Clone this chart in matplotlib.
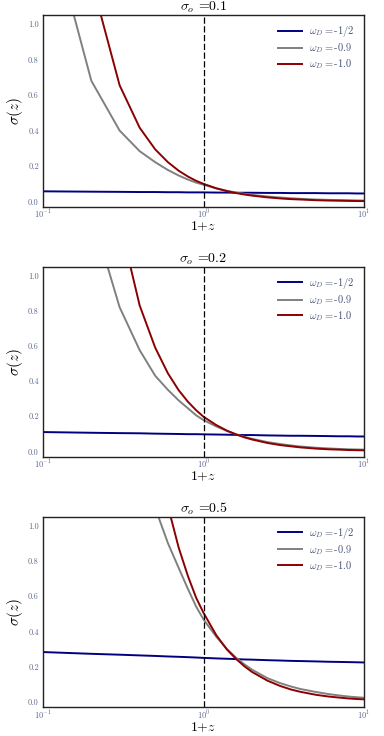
import numpy as np
import matplotlib
matplotlib.use("Agg")
import matplotlib.pyplot as plt

plt.rcParams['font.family'] = 'serif'
plt.rcParams['font.serif'] = ['cmr10', 'DejaVu Serif']
plt.rcParams['mathtext.fontset'] = 'cm'
plt.rcParams['axes.formatter.use_mathtext'] = True

# 1+z grid
x = [0.1, 0.2, 0.3, 0.4, 0.5, 0.6, 0.7, 0.8, 0.9, 1.0, 1.2, 1.4, 1.6, 1.8, 2.0,
     2.5, 3.0, 3.5, 4.0, 5.0, 6.0, 7.0, 8.0, 9.0, 10.0]

sigma0 = ['0.1', '0.2', '0.5']
labels = ['-1/2', '-0.9', '-1.0']
colors = ['#000080', 'gray', '#8b0000']

# sigma_o = 0.1
s1_half = [0.058, 0.056, 0.055, 0.054, 0.054, 0.053, 0.053, 0.052, 0.052, 0.052, 0.051, 0.051, 0.050,
           0.050, 0.050, 0.049, 0.049, 0.048, 0.048, 0.048, 0.047, 0.047, 0.047, 0.046, 0.046]
s1_09 = [1.7, 0.68, 0.40, 0.284, 0.222, 0.178, 0.147, 0.124, 0.107, 0.095, 0.075, 0.061, 0.051,
         0.044, 0.038, 0.029, 0.023, 0.019, 0.016, 0.012, 0.010, 0.009, 0.008, 0.007, 0.006]
s1_10 = [3.6, 1.25, 0.655, 0.416, 0.294, 0.222, 0.174, 0.141, 0.117, 0.100, 0.075, 0.059, 0.048,
         0.040, 0.034, 0.024, 0.018, 0.014, 0.012, 0.008, 0.006, 0.005, 0.004, 0.0033, 0.003]

# sigma_o = 0.2
s2_half = [0.110, 0.106, 0.104, 0.103, 0.101, 0.100, 0.099, 0.098, 0.098, 0.097, 0.096, 0.095, 0.094,
           0.093, 0.093, 0.091, 0.090, 0.089, 0.089, 0.088, 0.087, 0.086, 0.086, 0.085, 0.085]
s2_09 = [3.4, 1.36, 0.82, 0.576, 0.43, 0.35, 0.29, 0.245, 0.205, 0.178, 0.142, 0.116, 0.097,
         0.083, 0.072, 0.053, 0.042, 0.034, 0.028, 0.021, 0.017, 0.014, 0.012, 0.011, 0.010]
s2_10 = [7.2, 2.5, 1.31, 0.83, 0.59, 0.444, 0.348, 0.282, 0.234, 0.197, 0.150, 0.118, 0.096,
         0.080, 0.068, 0.048, 0.036, 0.029, 0.023, 0.016, 0.012, 0.010, 0.008, 0.007, 0.006]

# sigma_o = 0.5
s3_half = [0.283, 0.273, 0.268, 0.264, 0.261, 0.258, 0.256, 0.254, 0.252, 0.250, 0.247, 0.245, 0.243,
           0.241, 0.240, 0.237, 0.235, 0.233, 0.232, 0.230, 0.228, 0.227, 0.226, 0.225, 0.224]
s3_09 = [8.0, 3.4, 2.0, 1.4, 1.1, 0.9, 0.76, 0.64, 0.54, 0.468, 0.37, 0.30, 0.25,
         0.213, 0.184, 0.135, 0.107, 0.088, 0.074, 0.057, 0.045, 0.037, 0.031, 0.027, 0.024]
s3_10 = [18.0, 6.2, 3.3, 2.1, 1.47, 1.11, 0.875, 0.713, 0.59, 0.505, 0.379, 0.297, 0.243,
         0.202, 0.171, 0.121, 0.091, 0.071, 0.058, 0.041, 0.031, 0.025, 0.020, 0.017, 0.015]

panels = [[s1_half, s1_09, s1_10], [s2_half, s2_09, s2_10], [s3_half, s3_09, s3_10]]

fig = plt.figure(figsize=(3.84, 7.36), dpi=100)
boxes = [[0.112, 0.7188, 0.836, 0.2608],
         [0.112, 0.3795, 0.836, 0.2581],
         [0.112, 0.0390, 0.836, 0.2590]]
tickcol = '#5c6a90'
legcol = '#46527a'

for i in range(3):
    ax = fig.add_axes(boxes[i])
    for series, lab, col in zip(panels[i], labels, colors):
        ax.plot(x, series, color=col, lw=1.4, label=r'$\omega_D = $' + lab)
    ax.axvline(1.0, color='black', lw=0.9, ls=(0, (5, 2)))
    ax.set_xscale('log')
    ax.set_xlim(0.1, 10)
    ax.set_ylim(-0.03, 1.05)
    ax.set_yticks([0.0, 0.2, 0.4, 0.6, 0.8, 1.0])
    ax.set_yticklabels(['0.0', '0.2', '0.4', '0.6', '0.8', '1.0'])
    ax.minorticks_off()
    ax.tick_params(length=0, labelsize=6, labelcolor=tickcol, pad=3)
    ax.tick_params(axis='x', pad=1)
    for sp in ax.spines.values():
        sp.set_color('#222222')
        sp.set_linewidth(1.0)
    ax.set_title(r'$\sigma_o$ =' + sigma0[i], fontsize=10, pad=0.5)
    ax.set_xlabel(r'$1{+}z$', fontsize=10, labelpad=-1)
    ax.set_ylabel(r'$\sigma(z)$', fontsize=11, labelpad=2)
    leg = ax.legend(loc='upper right', frameon=False, fontsize=7.5, handlelength=2.3,
                    handletextpad=0.7, borderaxespad=0.5, labelspacing=0.2)
    for t in leg.get_texts():
        t.set_color(legcol)

fig.savefig('out.png', dpi=100)
